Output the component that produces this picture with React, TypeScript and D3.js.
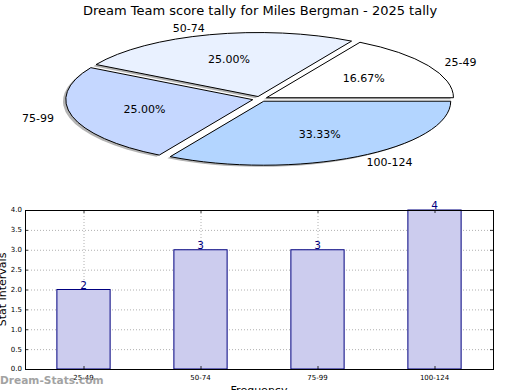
import * as d3 from 'd3';
import { useEffect } from 'react';

const title = 'Dream Team score tally for Miles Bergman - 2025 tally';
const categories = ['25-49', '50-74', '75-99', '100-124'];
const counts = [2, 3, 3, 4];
const sliceColors = ['#ffffff', '#e9f1ff', '#c5d7ff', '#b3d5ff'];
const yTicks = [0, 0.5, 1, 1.5, 2, 2.5, 3, 3.5, 4];

const width = 520;
const height = 390;

// pie geometry (ellipse, matplotlib-style counterclockwise from 3 o'clock)
const cx = 260;
const cy = 99;
const rx = 187;
const ry = 64;
const explode = 0.04;

// bar panel
const left = 25;
const right = 493;
const top = 210;
const bottom = 369;

export default function App() {
  useEffect(() => {
    document.body.style.margin = '0';
  }, []);

  const total = d3.sum(counts);
  const slices = d3
    .pie<number>()
    .sort(null)
    .value((d) => d)(counts);
  const arc = d3.arc<{ startAngle: number; endAngle: number }>().innerRadius(0).outerRadius(1);

  const x = d3.scalePoint<string>().domain(categories).range([left, right]).padding(0.5);
  const barW = x.step() * 0.455;
  const y = d3.scaleLinear().domain([0, 4]).range([bottom, top]);

  const font = 'DejaVu Sans, sans-serif';

  return (
    <div style={{ position: 'fixed', left: 0, top: 0 }}>
      <svg width={width} height={height} style={{ display: 'block', background: '#fff' }} fontFamily={font}>
        <text x={260} y={15} textAnchor='middle' fontSize={13}>
          {title}
        </text>
        {/* shadows */}
        {slices.map((s, i) => {
          const t0 = s.startAngle;
          const t1 = s.endAngle;
          const mid = (t0 + t1) / 2;
          const ox = explode * Math.cos(mid) - 0.015;
          const oy = -explode * Math.sin(mid) + 0.025;
          const d = arc({ startAngle: Math.PI / 2 - t1, endAngle: Math.PI / 2 - t0 });
          return (
            <path
              key={'s' + i}
              d={d ?? ''}
              transform={`translate(${cx},${cy}) scale(${rx},${ry}) translate(${ox},${oy})`}
              fill='#777'
              opacity={0.55}
            />
          );
        })}
        {slices.map((s, i) => {
          const t0 = s.startAngle;
          const t1 = s.endAngle;
          const mid = (t0 + t1) / 2;
          const ox = explode * Math.cos(mid);
          const oy = -explode * Math.sin(mid);
          const d = arc({ startAngle: Math.PI / 2 - t1, endAngle: Math.PI / 2 - t0 });
          return (
            <path
              key={'p' + i}
              d={d ?? ''}
              transform={`translate(${cx},${cy}) scale(${rx},${ry}) translate(${ox},${oy})`}
              fill={sliceColors[i]}
              stroke='#000'
              strokeWidth={1}
              vectorEffect='non-scaling-stroke'
            />
          );
        })}
        {slices.map((s, i) => {
          const mid = (s.startAngle + s.endAngle) / 2;
          const lr = 1.1 + explode;
          const pr = 0.6 + explode;
          const lx = cx + rx * lr * Math.cos(mid);
          const ly = cy - ry * lr * Math.sin(mid);
          const px = cx + rx * pr * Math.cos(mid);
          const py = cy - ry * pr * Math.sin(mid);
          const c = Math.cos(mid);
          const anchor = c > 0.05 ? 'start' : c < -0.05 ? 'end' : 'middle';
          return (
            <g key={'l' + i} fontSize={11}>
              <text x={lx} y={ly} dy='0.35em' textAnchor={anchor}>
                {categories[i]}
              </text>
              <text x={px} y={py} dy='0.35em' textAnchor='middle'>
                {((s.data / total) * 100).toFixed(2) + '%'}
              </text>
            </g>
          );
        })}

        {/* bar chart */}
        <g stroke='#b0b0b0' strokeWidth={1} strokeDasharray='1,2'>
          {yTicks.slice(1, -1).map((t) => (
            <line key={'gy' + t} x1={left} x2={right} y1={y(t) + 0.5} y2={y(t) + 0.5} />
          ))}
          {categories.map((c) => (
            <line key={'gx' + c} x1={(x(c) ?? 0) + 0.5} x2={(x(c) ?? 0) + 0.5} y1={top} y2={bottom} />
          ))}
        </g>
        {categories.map((c, i) => (
          <rect
            key={'b' + c}
            x={(x(c) ?? 0) - barW / 2}
            y={y(counts[i])}
            width={barW}
            height={bottom - y(counts[i])}
            fill='#ccccee'
            stroke='#000080'
            strokeWidth={1}
          />
        ))}
        {categories.map((c, i) => (
          <text
            key={'v' + c}
            x={x(c)}
            y={y(counts[i]) - 1}
            textAnchor='middle'
            fontSize={10.5}
            fill='#000080'
          >
            {counts[i]}
          </text>
        ))}
        <rect x={left + 0.5} y={top + 0.5} width={right - left} height={bottom - top} fill='none' stroke='#000' strokeWidth={1} />
        <g stroke='#000' strokeWidth={0.8}>
          {yTicks.map((t) => (
            <g key={'t' + t}>
              <line x1={left} x2={left + 3} y1={y(t) + 0.5} y2={y(t) + 0.5} />
              <line x1={right - 3} x2={right} y1={y(t) + 0.5} y2={y(t) + 0.5} />
            </g>
          ))}
          {categories.map((c) => (
            <g key={'tx' + c}>
              <line x1={(x(c) ?? 0) + 0.5} x2={(x(c) ?? 0) + 0.5} y1={bottom} y2={bottom - 3} />
              <line x1={(x(c) ?? 0) + 0.5} x2={(x(c) ?? 0) + 0.5} y1={top} y2={top + 3} />
            </g>
          ))}
        </g>
        {yTicks.map((t) => (
          <text key={'yl' + t} x={left - 3} y={y(t)} dy='0.35em' textAnchor='end' fontSize={7}>
            {t.toFixed(1)}
          </text>
        ))}
        {categories.map((c) => (
          <text key={'xl' + c} x={x(c)} y={bottom + 11} textAnchor='middle' fontSize={7}>
            {c}
          </text>
        ))}
        <text transform={`translate(6,${(top + bottom) / 2}) rotate(-90)`} textAnchor='middle' fontSize={11}>
          Stat Intervals
        </text>
        <text x={259} y={394} textAnchor='middle' fontSize={11}>
          Frequency
        </text>
        <text x={0} y={384} fontSize={10.6} fontWeight='bold' fill='#999' opacity={0.9}>
          Dream-Stats.com
        </text>
      </svg>
    </div>
  );
}
